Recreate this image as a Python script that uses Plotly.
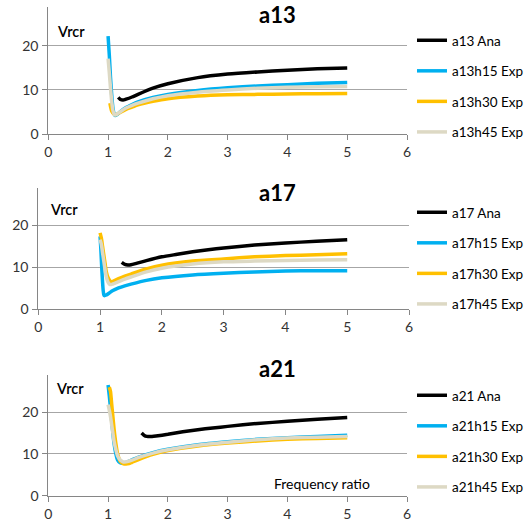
import plotly.graph_objects as go

# ---------------- data ----------------
x_labels = ["0", "1", "2", "3", "4", "5", "6"]
y_ticks = [0, 10, 20]

# a13
a13_ana_x = [1.17, 1.2, 1.25, 1.3, 1.4, 1.5, 1.75, 2, 2.5, 3, 3.5, 4, 4.5, 5]
a13_ana_y = [8.3, 7.9, 7.7, 7.9, 8.4, 9.0, 10.4, 11.4, 12.8, 13.6, 14.1, 14.5, 14.8, 15.0]
a13h15_x = [1.0, 1.02, 1.04, 1.06, 1.08, 1.1, 1.12, 1.15, 1.2, 1.3, 1.4, 1.5, 1.75, 2, 2.5, 3, 3.5, 4, 4.5, 5]
a13h15_y = [22.2, 18, 13, 9, 6, 4.6, 4.2, 4.4, 5.0, 6.0, 6.7, 7.3, 8.3, 9.0, 9.9, 10.5, 10.9, 11.2, 11.5, 11.7]
a13h30_x = [1.03, 1.06, 1.09, 1.12, 1.15, 1.2, 1.3, 1.4, 1.5, 1.75, 2, 2.5, 3, 3.5, 4, 4.5, 5]
a13h30_y = [7, 5.2, 4.6, 4.4, 4.5, 4.9, 5.6, 6.1, 6.6, 7.4, 8.0, 8.6, 8.9, 9.0, 9.1, 9.15, 9.2]
a13h45_x = [1.0, 1.02, 1.04, 1.06, 1.08, 1.1, 1.12, 1.15, 1.2, 1.3, 1.4, 1.5, 1.75, 2, 2.5, 3, 3.5, 4, 4.5, 5]
a13h45_y = [17.1, 14, 10.5, 7.5, 5.4, 4.5, 4.3, 4.5, 5.0, 5.9, 6.5, 7.0, 8.0, 8.7, 9.5, 10.0, 10.4, 10.6, 10.7, 10.8]

# a17
a17_ana_x = [1.35, 1.4, 1.45, 1.5, 1.6, 1.75, 2, 2.25, 2.5, 2.75, 3, 3.5, 4, 4.5, 5]
a17_ana_y = [11.2, 10.7, 10.55, 10.6, 11.0, 11.6, 12.5, 13.1, 13.7, 14.2, 14.6, 15.3, 15.8, 16.2, 16.6]
a17h15_x = [1.0, 1.01, 1.02, 1.03, 1.04, 1.05, 1.06, 1.07, 1.1, 1.15, 1.2, 1.3, 1.4, 1.5, 1.75, 2, 2.5, 3, 3.5, 4, 4.5, 5]
a17h15_y = [17.4, 15, 12, 9, 6.5, 4.5, 3.5, 3.25, 3.4, 3.9, 4.4, 5.1, 5.6, 6.0, 6.9, 7.5, 8.2, 8.6, 8.9, 9.1, 9.2, 9.2]
a17h30_x = [1.0, 1.02, 1.04, 1.06, 1.08, 1.1, 1.13, 1.16, 1.18, 1.2, 1.3, 1.4, 1.5, 1.75, 2, 2.5, 3, 3.5, 4, 4.5, 5]
a17h30_y = [18.2, 17, 15, 13, 11, 9, 7.5, 6.8, 6.5, 6.6, 7.3, 7.9, 8.4, 9.6, 10.5, 11.5, 12.0, 12.5, 12.8, 13.0, 13.25]
a17h45_x = [1.0, 1.02, 1.04, 1.06, 1.08, 1.1, 1.13, 1.16, 1.2, 1.3, 1.4, 1.5, 1.75, 2, 2.5, 3, 3.5, 4, 4.5, 5]
a17h45_y = [16.6, 15.5, 13.5, 11.5, 9.5, 7.8, 6.4, 5.9, 6.0, 6.6, 7.2, 7.7, 8.9, 9.8, 10.8, 11.3, 11.5, 11.65, 11.75, 11.8]

# a21
a21_ana_x = [1.56, 1.6, 1.65, 1.7, 1.8, 2, 2.25, 2.5, 2.75, 3, 3.5, 4, 4.5, 5]
a21_ana_y = [15.0, 14.5, 14.2, 14.15, 14.3, 14.7, 15.3, 15.8, 16.2, 16.6, 17.3, 17.8, 18.3, 18.7]
a21h15_x = [1.0, 1.02, 1.04, 1.06, 1.08, 1.1, 1.13, 1.16, 1.2, 1.25, 1.3, 1.4, 1.5, 1.75, 2, 2.5, 3, 3.5, 4, 4.5, 5]
a21h15_y = [26.5, 24, 21, 18, 15, 12.5, 10, 8.5, 7.9, 7.8, 8.0, 8.6, 9.2, 10.3, 11.1, 12.2, 12.9, 13.5, 13.9, 14.2, 14.5]
a21h30_x = [1.02, 1.04, 1.06, 1.08, 1.1, 1.13, 1.16, 1.2, 1.25, 1.3, 1.35, 1.4, 1.5, 1.75, 2, 2.5, 3, 3.5, 4, 4.5, 5]
a21h30_y = [26, 25, 22, 19, 16, 12.5, 10, 8.3, 7.7, 7.6, 7.7, 8.0, 8.6, 9.9, 10.8, 11.9, 12.6, 13.1, 13.5, 13.7, 13.9]
a21h45_x = [1.0, 1.02, 1.04, 1.06, 1.08, 1.1, 1.13, 1.16, 1.2, 1.25, 1.3, 1.4, 1.5, 1.75, 2, 2.5, 3, 3.5, 4, 4.5, 5]
a21h45_y = [21.8, 20.5, 19, 17, 15, 13, 11, 9.5, 8.6, 8.1, 8.1, 8.5, 9.1, 10.2, 11.0, 12.1, 12.8, 13.4, 13.8, 14.0, 14.2]

titles = ["a13", "a17", "a21"]
series_names = [
    ["a13 Ana", "a13h15 Exp", "a13h30 Exp", "a13h45 Exp"],
    ["a17 Ana", "a17h15 Exp", "a17h30 Exp", "a17h45 Exp"],
    ["a21 Ana", "a21h15 Exp", "a21h30 Exp", "a21h45 Exp"],
]
y_label = "Vrcr"
x_label = "Frequency ratio"

# ---------------- styling ----------------
W, H = 531, 526
colors = ["#000000", "#00B0F0", "#FFC000", "#DDD9C4"]
FONT = "Lato, Calibri, Carlito, sans-serif"

data = [
    [(a13_ana_x, a13_ana_y), (a13h15_x, a13h15_y), (a13h30_x, a13h30_y), (a13h45_x, a13h45_y)],
    [(a17_ana_x, a17_ana_y), (a17h15_x, a17h15_y), (a17h30_x, a17h30_y), (a17h45_x, a17h45_y)],
    [(a21_ana_x, a21_ana_y), (a21h15_x, a21h15_y), (a21h30_x, a21h30_y), (a21h45_x, a21h45_y)],
]

# pixel layout of each panel: (left, right, top, bottom)
panels = [(48.3, 407, 6.7, 134), (38.3, 409, 188, 309.3), (48.3, 407, 375, 495.7)]
legend_tops = [25, 197, 380]
title_pos = [(277, 15), (277, 193), (277, 368)]
vrcr_pos = [(71, 32), (64, 210), (70, 388)]

fig = go.Figure()
layout = dict(
    width=W, height=H, autosize=False,
    margin=dict(l=0, r=0, t=0, b=0, autoexpand=False),
    paper_bgcolor="white", plot_bgcolor="white",
    font=dict(family=FONT, size=14, color="#404040"),
    annotations=[],
)

for p in range(3):
    sfx = "" if p == 0 else str(p + 1)
    xa, ya = "x" + sfx, "y" + sfx
    leg = "legend" + sfx
    for k in range(4):
        xs, ys = data[p][k]
        fig.add_trace(go.Scatter(
            x=xs, y=ys, mode="lines", name=series_names[p][k],
            line=dict(color=colors[k], width=3.5, shape="spline", smoothing=0.6),
            xaxis=xa, yaxis=ya, legend=leg, legendgroup=f"g{p}{k}",
        ))
    l, r, t, b = panels[p]
    layout["xaxis" + sfx] = dict(
        domain=[l / W, r / W], range=[0, 6], anchor=ya,
        tickmode="array", tickvals=list(range(7)), ticktext=x_labels,
        showline=True, linecolor="#868686", linewidth=1,
        ticks="outside", ticklen=5, tickcolor="#868686",
        showgrid=False, zeroline=False, ticklabelstandoff=0,
        tickfont=dict(size=14, color="#333333"),
    )
    layout["yaxis" + sfx] = dict(
        domain=[1 - b / H, 1 - t / H], range=[0, 28.9], anchor=xa,
        tickmode="array", tickvals=y_ticks,
        showline=True, linecolor="#868686", linewidth=1,
        ticks="outside", ticklen=5, tickcolor="#868686",
        showgrid=True, gridcolor="#A6A6A6", gridwidth=1, zeroline=False,
        ticklabelstandoff=1,
        tickfont=dict(size=14, color="#333333"),
    )
    layout[leg] = dict(
        x=412 / W, xanchor="left", y=1 - legend_tops[p] / H, yanchor="top",
        bgcolor="rgba(0,0,0,0)", font=dict(size=13.5, color="#000000"),
        traceorder="grouped", tracegroupgap=10, itemwidth=30,
    )
    tx, ty = title_pos[p]
    layout["annotations"].append(dict(
        text=f"<b>{titles[p]}</b>", x=tx / W, y=1 - ty / H, xref="paper", yref="paper",
        showarrow=False, xanchor="center", yanchor="middle",
        font=dict(size=22, color="#000000"),
    ))
    vx, vy = vrcr_pos[p]
    layout["annotations"].append(dict(
        text=y_label, x=vx / W, y=1 - vy / H, xref="paper", yref="paper",
        showarrow=False, xanchor="center", yanchor="middle",
        font=dict(size=14.5, color="#000000", weight=600),
    ))

layout["annotations"].append(dict(
    text=x_label, x=322 / W, y=1 - 483 / H, xref="paper", yref="paper",
    showarrow=False, xanchor="center", yanchor="middle",
    font=dict(size=14, color="#000000"),
))

fig.update_layout(**layout)
fig.write_html("out.html", config={"displayModeBar": False},
               post_script="document.body.style.margin='0px';")
